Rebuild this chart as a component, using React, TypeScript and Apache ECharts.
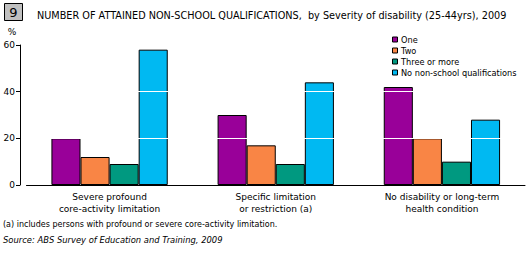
import React, { useEffect, useRef } from "react";
import * as echarts from "echarts";

const categories = [
  "Severe profound\ncore-activity limitation",
  "Specific limitation\nor restriction (a)",
  "No disability or long-term\nhealth condition",
];
const seriesNames = ["One", "Two", "Three or more", "No non-school qualifications"];
const one = [20, 30, 42];
const two = [12, 17, 20];
const threeOrMore = [9, 9, 10];
const noQual = [58, 44, 28];
const colors = ["#990099", "#F98545", "#009980", "#00B9F2"];
const yTicks = [0, 20, 40, 60];

const FONT = "DejaVu Sans";

export default function App() {
  const ref = useRef<HTMLDivElement>(null);
  useEffect(() => {
    if (!ref.current) return;
    const chart = echarts.init(ref.current, null, { renderer: "svg" });
    const values = [one, two, threeOrMore, noQual];
    const legendGraphics: any[] = [];
    seriesNames.forEach((name, i) => {
      const cy = 39.5 + i * 11;
      legendGraphics.push({
        type: "rect",
        shape: { x: 392.5, y: cy - 2.5, width: 5, height: 5 },
        style: { fill: colors[i], stroke: "#000", lineWidth: 1 },
      });
      legendGraphics.push({
        type: "text",
        x: 401,
        y: cy,
        style: { text: name, fontSize: 8.2, fontFamily: FONT, fill: "#000", verticalAlign: "middle" },
      });
    });
    chart.setOption({
      animation: false,
      textStyle: { fontFamily: FONT },
      grid: { left: 26.5, right: 4, top: 45, bottom: 68 },
      xAxis: {
        type: "category",
        data: categories,
        z: 6,
        axisLine: { lineStyle: { color: "#000", width: 1 } },
        axisTick: { alignWithLabel: true, length: 3, lineStyle: { color: "#000" } },
        axisLabel: { color: "#000", fontSize: 9, lineHeight: 12, margin: 6, fontFamily: FONT },
      },
      yAxis: {
        type: "value",
        min: yTicks[0],
        max: yTicks[yTicks.length - 1],
        interval: 20,
        offset: 6.5,
        z: 5,
        axisLine: { show: true, lineStyle: { color: "#000", width: 1 } },
        axisTick: { show: true, length: 4, lineStyle: { color: "#000" } },
        axisLabel: { color: "#000", fontSize: 9, margin: 5, fontFamily: FONT },
        splitLine: { show: true, lineStyle: { color: "#fff", width: 1 } },
      },
      series: seriesNames.map((name, i) => ({
        name,
        type: "bar",
        data: values[i],
        barGap: "0%",
        barCategoryGap: "30%",
        itemStyle: { color: colors[i], borderColor: "#000", borderWidth: 1 },
      })),
      graphic: [
        {
          type: "rect",
          shape: { x: 4.5, y: 3.5, width: 18, height: 17 },
          style: { fill: "#C0C0C0", stroke: "#000", lineWidth: 1 },
        },
        {
          type: "text",
          x: 13.5,
          y: 12,
          style: { text: "9", fontSize: 13, fontFamily: FONT, fill: "#000", align: "center", verticalAlign: "middle" },
        },
        {
          type: "text",
          x: 37,
          y: 15,
          style: {
            text: "NUMBER OF ATTAINED NON-SCHOOL QUALIFICATIONS,  by Severity of disability (25-44yrs), 2009",
            fontSize: 9.7,
            fontFamily: FONT,
            fill: "#000",
            verticalAlign: "middle",
          },
        },
        {
          type: "text",
          x: 12,
          y: 32,
          style: { text: "%", fontSize: 9, fontFamily: FONT, fill: "#000", align: "center", verticalAlign: "middle" },
        },
        {
          type: "text",
          x: 3,
          y: 224,
          style: {
            text: "(a) includes persons with profound or severe core-activity limitation.",
            fontSize: 8,
            fontFamily: FONT,
            fill: "#000",
            verticalAlign: "middle",
          },
        },
        {
          type: "text",
          x: 3,
          y: 240,
          style: {
            text: "Source: ABS Survey of Education and Training, 2009",
            fontSize: 8.4,
            fontStyle: "italic",
            fontFamily: FONT,
            fill: "#000",
            verticalAlign: "middle",
          },
        },
        ...legendGraphics,
      ],
    });
    return () => chart.dispose();
  }, []);
  return (
    <div
      ref={ref}
      style={{ position: "fixed", left: 0, top: 0, width: 529, height: 253, background: "#fff" }}
    />
  );
}
